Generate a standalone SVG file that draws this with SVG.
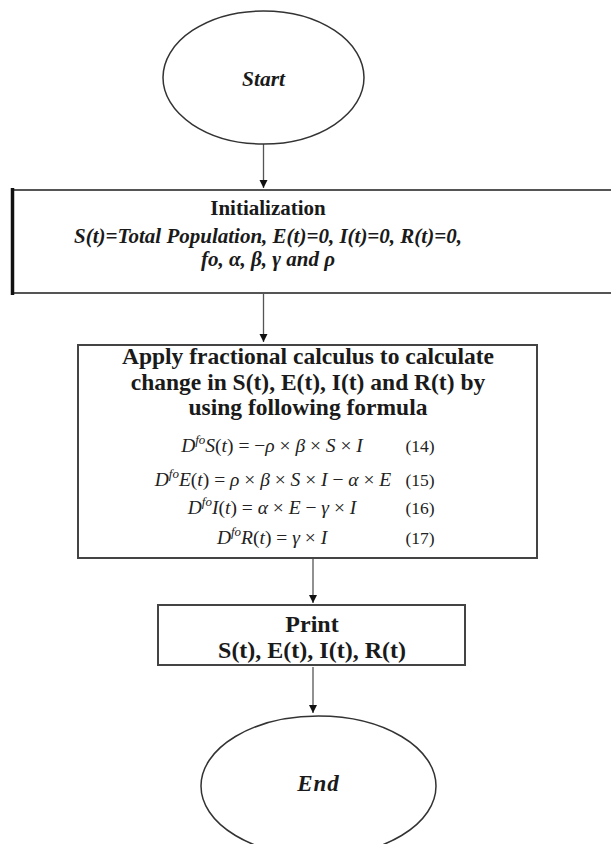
<svg xmlns="http://www.w3.org/2000/svg" width="611" height="844" viewBox="0 0 611 844">
<style>
.shape{fill:#fff;stroke:#333;stroke-width:1.5}
.box{fill:#fff;stroke:#444;stroke-width:2}
.conn{stroke:#555;stroke-width:1.3;fill:none}
.t{font-family:"Liberation Serif","Times New Roman",serif;fill:#1a1a1a;text-anchor:middle}
.b{font-weight:bold}
.bi{font-weight:bold;font-style:italic}
.eq{font-family:"Liberation Serif","Times New Roman",serif;font-size:19.5px;fill:#222;text-anchor:middle}
.i{font-style:italic}
.n{font-family:"Liberation Serif","Times New Roman",serif;font-size:17.5px;fill:#222;text-anchor:middle}
</style>
<defs>
<marker id="ah" markerWidth="10" markerHeight="10" refX="8" refY="4" orient="auto" markerUnits="userSpaceOnUse">
<path d="M0,0 L8,4 L0,8 z" fill="#111"/>
</marker>
</defs>
<rect width="611" height="844" fill="#fff"/>
<g id="connectors">
<line class="conn" x1="263.5" y1="144" x2="263.5" y2="188" marker-end="url(#ah)"/>
<line class="conn" x1="263.5" y1="294" x2="263.5" y2="342" marker-end="url(#ah)"/>
<line class="conn" x1="313" y1="559" x2="313" y2="603" marker-end="url(#ah)"/>
<line class="conn" x1="313" y1="667" x2="313" y2="713" marker-end="url(#ah)"/>
</g>
<g id="start">
<ellipse class="shape" cx="263.5" cy="77.5" rx="100.5" ry="66.5"/>
<text class="t bi" x="263.5" y="86" font-size="21.5">Start</text>
</g>
<g id="init">
<line x1="11" y1="190" x2="620" y2="190" stroke="#555" stroke-width="2"/>
<line x1="11" y1="293" x2="620" y2="293" stroke="#555" stroke-width="2"/>
<line x1="12.5" y1="188" x2="12.5" y2="295" stroke="#111" stroke-width="3.5"/>
<text class="t b" x="268" y="215" font-size="21">Initialization</text>
<text class="t bi" x="268" y="243" font-size="21">S(t)=Total Population, E(t)=0, I(t)=0, R(t)=0,</text>
<text class="t bi" x="268" y="266" font-size="21">fo, α, β, γ and ρ</text>
</g>
<g id="calc">
<rect class="box" x="78" y="345" width="459" height="213"/>
<text class="t b" x="308" y="364" font-size="23.5">Apply fractional calculus to calculate</text>
<text class="t b" x="308" y="389.5" font-size="23.5">change in S(t), E(t), I(t) and R(t) by</text>
<text class="t b" x="308" y="415" font-size="23.5">using following formula</text>
<text class="eq" x="272" y="452"><tspan class="i">D</tspan><tspan class="i" font-size="13" dy="-8">fo</tspan><tspan class="i" dy="8">S</tspan>(<tspan class="i">t</tspan>) = −<tspan class="i">ρ</tspan> × <tspan class="i">β</tspan> × <tspan class="i">S</tspan> × <tspan class="i">I</tspan></text>
<text class="eq" x="273" y="486"><tspan class="i">D</tspan><tspan class="i" font-size="13" dy="-8">fo</tspan><tspan class="i" dy="8">E</tspan>(<tspan class="i">t</tspan>) = <tspan class="i">ρ</tspan> × <tspan class="i">β</tspan> × <tspan class="i">S</tspan> × <tspan class="i">I</tspan> − <tspan class="i">α</tspan> × <tspan class="i">E</tspan></text>
<text class="eq" x="272" y="514"><tspan class="i">D</tspan><tspan class="i" font-size="13" dy="-8">fo</tspan><tspan class="i" dy="8">I</tspan>(<tspan class="i">t</tspan>) = <tspan class="i">α</tspan> × <tspan class="i">E</tspan> − <tspan class="i">γ</tspan> × <tspan class="i">I</tspan></text>
<text class="eq" x="272" y="544"><tspan class="i">D</tspan><tspan class="i" font-size="13" dy="-8">fo</tspan><tspan class="i" dy="8">R</tspan>(<tspan class="i">t</tspan>) = <tspan class="i">γ</tspan> × <tspan class="i">I</tspan></text>
<text class="n" x="420" y="452">(14)</text>
<text class="n" x="420" y="486">(15)</text>
<text class="n" x="420" y="514">(16)</text>
<text class="n" x="420" y="544">(17)</text>
</g>
<g id="print">
<rect class="box" x="158" y="605" width="307" height="60"/>
<text class="t b" x="312" y="632" font-size="24">Print</text>
<text class="t b" x="312" y="658" font-size="24">S(t), E(t), I(t), R(t)</text>
</g>
<g id="end">
<ellipse class="shape" cx="318.5" cy="786" rx="117.5" ry="70"/>
<text class="t bi" x="318.5" y="791" font-size="23" letter-spacing="1">End</text>
</g>
</svg>
